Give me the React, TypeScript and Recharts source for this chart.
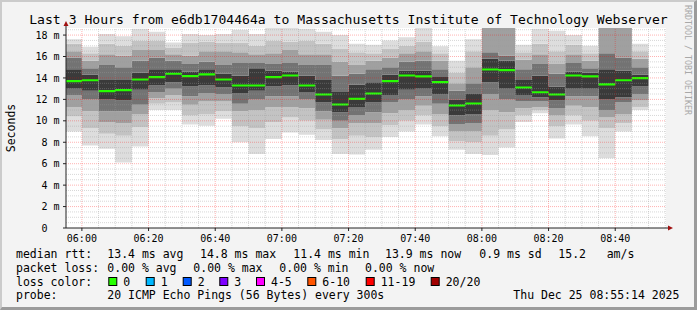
import React from "react";
import { ComposedChart, Area, XAxis, YAxis, ReferenceLine } from "recharts";

// ---- time window & categories ----
const graphStart = "05:55:14";
const graphEnd = "08:55:14";
const barEnds = [
  "06:00","06:05","06:10","06:15","06:20","06:25","06:30","06:35","06:40","06:45","06:50","06:55",
  "07:00","07:05","07:10","07:15","07:20","07:25","07:30","07:35","07:40","07:45","07:50","07:55",
  "08:00","08:05","08:10","08:15","08:20","08:25","08:30","08:35","08:40","08:45","08:50",
];
const xTickLabels = ["06:00","06:20","06:40","07:00","07:20","07:40","08:00","08:20","08:40"];
const yTicks = [0, 2, 4, 6, 8, 10, 12, 14, 16, 18];
const yMax = 18.66;

// ---- sorted ping values per 5-minute step (ms) ----
const pingMin = [9.0,7.7,7.4,6.1,7.6,11.0,11.0,9.65,9.55,10.2,8.0,6.9,8.3,8.9,8.7,8.2,6.9,6.85,7.3,8.5,9.0,9.65,8.55,7.3,6.9,6.8,7.5,9.9,10.7,8.35,9.65,8.55,6.5,9.0,11.0];
const ping2 = [10.4,9.3,8.8,8.6,9.4,11.6,11.7,10.5,10.6,10.9,9.5,9.3,9.9,10.3,10.0,9.2,8.3,8.6,8.5,9.6,10.0,10.5,9.5,8.1,8.0,8.6,9.2,10.5,11.0,9.5,10.5,10.0,9.3,9.8,11.3];
const ping4 = [11.3,10.9,9.9,9.8,10.6,12.1,12.4,11.5,11.8,11.8,10.9,11.0,11.3,11.3,11.2,10.1,9.3,9.8,9.8,10.7,11.0,11.4,10.6,9.0,9.0,11.0,10.8,11.2,11.3,10.5,11.4,11.3,10.3,10.6,11.9];
const ping6 = [12.4,12.0,10.9,10.9,11.5,12.7,13.0,12.3,12.6,12.5,11.6,12.0,12.3,12.3,12.0,10.9,10.0,10.5,10.8,11.7,12.0,12.3,11.6,9.7,9.8,12.5,12.0,11.8,11.8,11.2,12.3,12.3,11.0,11.7,12.5];
const ping8 = [13.0,12.8,12.0,11.9,12.9,13.3,13.6,13.2,13.3,13.1,12.6,12.8,13.2,13.3,12.7,11.7,10.8,11.3,11.7,12.4,12.9,13.0,12.5,10.5,10.6,13.6,13.0,12.4,12.2,11.9,13.0,13.0,12.0,12.2,13.2];
const median = [13.70,13.79,12.77,12.86,13.86,14.08,14.39,14.17,14.33,13.86,13.30,13.30,14.08,14.23,13.30,12.46,11.52,12.05,12.55,13.70,14.23,14.14,13.61,11.43,11.62,14.79,14.73,13.11,12.67,12.46,14.23,14.14,13.40,13.79,13.98];
const ping13 = [14.8,14.3,13.8,13.8,14.5,14.8,14.8,14.6,14.8,14.4,14.2,14.9,14.7,14.6,14.2,13.8,12.7,13.4,13.6,14.3,14.7,14.7,14.1,12.0,12.5,15.8,15.6,13.8,14.2,13.2,14.6,14.5,14.8,14.7,14.3];
const ping15 = [15.9,14.9,15.2,15.0,15.6,15.9,15.6,15.3,15.5,15.2,15.4,15.4,15.3,15.4,15.2,15.2,14.2,14.4,14.8,15.0,15.5,15.6,14.8,12.8,13.5,16.4,16.1,14.8,15.3,14.4,15.4,14.9,16.3,15.9,15.0];
const ping17 = [16.5,15.6,16.2,16.1,16.6,16.6,16.2,16.1,16.5,16.5,16.4,16.2,16.3,16.6,16.2,16.2,15.5,15.2,15.6,15.9,16.3,16.5,15.6,13.5,15.0,19.5,19.5,15.7,16.2,15.3,16.2,15.6,19.2,19.2,15.8];
const ping19 = [17.2,16.3,17.2,17.0,17.5,17.5,16.8,17.3,17.4,17.3,17.3,17.0,17.5,17.4,17.5,17.2,16.7,16.4,16.3,16.7,17.0,17.4,16.3,14.5,16.5,21,21,16.4,17.2,16.5,17.1,16.3,20,20,16.5];
const pingMax = [17.6,16.9,18.1,17.9,18.6,18.3,17.3,18.1,18.0,18.1,18.5,18.1,18.7,18.7,18.6,18.3,18.0,17.2,17.1,17.5,17.8,18.7,16.95,15.6,17.6,22,22,17.1,18.6,18.4,18.0,17.0,21,21,17.2];

const bandGreys = [221, 195, 160, 115, 58, 58, 115, 160, 195, 221];

const lossLabels = ["0", "1", "2", "3", "4-5", "6-10", "11-19", "20/20"];
const lossColors = ["#26ff00", "#00b8ff", "#0059ff", "#7e00ff", "#ff00ff", "#ff5500", "#ff0000", "#a10000"];

// ---- helpers ----
const toMin = (s: string) => {
  const [h, m, sec] = s.split(":").map(Number);
  return h * 60 + m + (sec || 0) / 60 - 360;
};
const xStart = toMin(graphStart);
const xEnd = toMin(graphEnd);
const levels = [pingMin, ping2, ping4, ping6, ping8, median, ping13, ping15, ping17, ping19, pingMax];

const data = barEnds.map((e, i) => ({
  x: Math.max(toMin(e) - 5, xStart),
  q: levels.map((l) => l[i]),
  med: median[i],
}));
data.push({ ...data[data.length - 1], x: toMin(barEnds[barEnds.length - 1]) });

const fmt = (m: number) => {
  const t = m + 360;
  const h = Math.floor(t / 60);
  const mm = Math.round(t - h * 60);
  return `${String(h).padStart(2, "0")}:${String(mm).padStart(2, "0")}`;
};

const minorX: number[] = [];
for (let v = 0; v <= xEnd; v += 5) if (v % 20 !== 0) minorX.push(v);
const majorX = xTickLabels.map(toMin);
const minorY: number[] = [];
for (let v = 0.5; v < yMax; v += 0.5) if (v % 2 !== 0) minorY.push(v);
const majorY = yTicks.filter((v) => v > 0);

const FONT = "DejaVu Sans Mono, monospace";

const YTick = (props: any) => {
  const { x, y, payload } = props;
  const v = payload.value;
  const label = v === 0 ? "0\u00a0\u00a0" : `${v} m`;
  return (
    <text x={x} y={y + 3.6} textAnchor="end" fontFamily={FONT} fontSize={10} fill="#000">
      {label}
    </text>
  );
};

const XTick = (props: any) => {
  const { x, y, payload } = props;
  return (
    <text x={x} y={y + 7} textAnchor="middle" fontFamily={FONT} fontSize={10} fill="#000">
      {fmt(payload.value)}
    </text>
  );
};

const grey = (g: number) => `rgb(${g},${g},${g})`;

export default function App() {
  const legendFont = { fontFamily: FONT, fontSize: 11.5, fill: "#000" } as const;
  return (
    <div
      style={{
        position: "absolute",
        left: 0,
        top: 0,
        width: 697,
        height: 310,
        boxSizing: "border-box",
        background: "#f3f3f3",
        borderTop: "2px solid #cbcbcb",
        borderLeft: "2px solid #cbcbcb",
        borderRight: "3px solid #9b9b9b",
        borderBottom: "3px solid #9b9b9b",
      }}
    >
      <div style={{ position: "absolute", left: 64, top: 26, width: 600, height: 200, background: "#fff" }} />
      <div style={{ position: "absolute", left: -2, top: -2 }}>
        <ComposedChart
          width={697}
          height={310}
          data={data}
          margin={{ top: 28, right: 31, bottom: 52, left: 6 }}
        >
          <XAxis
            type="number"
            dataKey="x"
            domain={[xStart, xEnd]}
            allowDataOverflow
            ticks={majorX}
            interval={0}
            tick={<XTick />}
            tickSize={3}
            tickMargin={4}
            height={30}
            axisLine={{ stroke: "#222" }}
            tickLine={{ stroke: "#222" }}
          />
          <YAxis
            type="number"
            domain={[0, yMax]}
            allowDataOverflow
            ticks={yTicks}
            interval={0}
            tick={<YTick />}
            tickSize={3}
            tickMargin={3.5}
            width={60}
            axisLine={{ stroke: "#222" }}
            tickLine={{ stroke: "#222" }}
          />
          {bandGreys.map((g, j) => (
            <Area
              key={`band${j}`}
              type="stepAfter"
              dataKey={(d: any) => [d.q[j], d.q[j + 1]]}
              stroke="none"
              fill={grey(g)}
              fillOpacity={1}
              dot={false}
              activeDot={false}
              isAnimationActive={false}
            />
          ))}
          <Area
            type="stepAfter"
            dataKey={(d: any) => [d.med - 0.1, d.med + 0.1]}
            stroke="none"
            fill="#26ff00"
            fillOpacity={1}
            dot={false}
            activeDot={false}
            isAnimationActive={false}
          />
          {minorY.map((v) => (
            <ReferenceLine key={`my${v}`} y={v} stroke="#9a9a9a" strokeOpacity={0.4} strokeDasharray="1 1" />
          ))}
          {minorX.map((v) => (
            <ReferenceLine key={`mx${v}`} x={v} stroke="#9a9a9a" strokeOpacity={0.4} strokeDasharray="1 1" />
          ))}
          {majorY.map((v) => (
            <ReferenceLine key={`My${v}`} y={v} stroke="#ff0000" strokeOpacity={0.3} strokeDasharray="1 1" />
          ))}
          {majorX.map((v) => (
            <ReferenceLine key={`Mx${v}`} x={v} stroke="#ff0000" strokeOpacity={0.3} strokeDasharray="1 1" />
          ))}
        </ComposedChart>
      </div>
      <svg
        width={697}
        height={310}
        style={{ position: "absolute", left: -2, top: -2, pointerEvents: "none" }}
      >
        <text x={348.5} y={24} textAnchor="middle" fontFamily={FONT} fontSize={13.1} fill="#000">
          Last 3 Hours from e6db1704464a to Massachusetts Institute of Technology Webserver
        </text>
        <text transform="translate(15,128) rotate(-90)" textAnchor="middle" fontFamily={FONT} fontSize={11.5} fill="#000">
          Seconds
        </text>
        <text transform="translate(685,5) rotate(90)" fontFamily={FONT} fontSize={8.3} fill="#a8a8a8">
          RRDTOOL / TOBI OETIKER
        </text>
        {/* axis arrows */}
        <line x1={66} y1={28} x2={66} y2={24} stroke="#222" />
        <polygon points="63.5,26 68.5,26 66,21" fill="#a01010" />
        <line x1={666} y1={228} x2={669} y2={228} stroke="#222" />
        <polygon points="668,225.5 668,230.5 673,228" fill="#a01010" />
        {/* legend */}
        <text x={16} y={258.3} {...legendFont}>median rtt:</text>
        <text x={107.3} y={258.3} {...legendFont}>13.4 ms avg</text>
        <text x={200} y={258.3} {...legendFont}>14.8 ms max</text>
        <text x={293.3} y={258.3} {...legendFont}>11.4 ms min</text>
        <text x={385} y={258.3} {...legendFont}>13.9 ms now</text>
        <text x={479.3} y={258.3} {...legendFont}>0.9 ms sd</text>
        <text x={558.3} y={258.3} {...legendFont}>15.2</text>
        <text x={606.7} y={258.3} {...legendFont}>am/s</text>

        <text x={16} y={272} {...legendFont}>packet loss:</text>
        <text x={107.3} y={272} {...legendFont}>0.00 % avg</text>
        <text x={193.3} y={272} {...legendFont}>0.00 % max</text>
        <text x={279.3} y={272} {...legendFont}>0.00 % min</text>
        <text x={365} y={272} {...legendFont}>0.00 % now</text>

        <text x={16} y={285.7} {...legendFont}>loss color:</text>
        {lossLabels.map((l, i) => {
          const bx = [108.3, 145.7, 182.7, 219.3, 256, 307.3, 365.7, 430.7][i];
          return (
            <g key={l}>
              <rect x={bx + 0.5} y={277.5} width={8} height={8} fill={lossColors[i]} stroke="#000" strokeWidth={1} />
              <text x={bx + 15} y={285.7} {...legendFont}>{l}</text>
            </g>
          );
        })}

        <text x={16} y={299.3} {...legendFont}>probe:</text>
        <text x={107.3} y={299.3} {...legendFont}>20 ICMP Echo Pings (56 Bytes) every 300s</text>
        <text x={513.3} y={299.3} {...legendFont}>Thu Dec 25 08:55:14 2025</text>
      </svg>
    </div>
  );
}
